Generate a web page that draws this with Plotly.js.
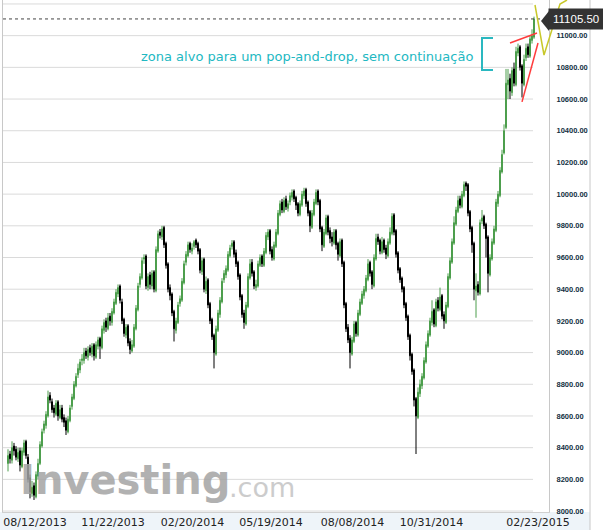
<!DOCTYPE html>
<html>
<head>
<meta charset="utf-8">
<script src="https://cdn.plot.ly/plotly-3.0.1.min.js"></script>
<style>html,body{margin:0;padding:0;background:#fff;}#chart{width:603px;height:530px;}</style>
</head>
<body>
<div id="chart"></div>
<script>
// ---- data ----
const opens = [
8300,8360,8320,8410,8390,8330,8380,8280,8370,8440,
8340,8210,8110,8160,8090,8220,8300,8410,8510,8540,
8600,8730,8690,8650,8610,8690,8590,8650,8590,8570,
8500,8570,8660,8710,8790,8860,8890,8950,8950,9010,
8970,9030,8990,9050,8970,9040,9090,9030,9140,9200,
9150,9230,9190,9250,9310,9370,9420,9320,9210,9110,
9170,9070,9010,9040,9150,9270,9430,9470,9590,9610,
9410,9490,9420,9510,9390,9640,9760,9730,9790,9690,
9560,9410,9370,9260,9140,9190,9310,9330,9440,9570,
9610,9690,9640,9670,9710,9690,9650,9510,9590,9390,
9460,9310,9210,9110,8990,9140,9240,9320,9460,9490,
9520,9610,9670,9700,9630,9570,9490,9360,9250,9180,
9290,9470,9570,9510,9410,9420,9550,9610,9550,9630,
9730,9770,9650,9590,9670,9750,9870,9950,9890,9970,
9910,9950,9980,10020,9980,9940,9870,9930,9990,10030,
9950,9890,9790,9870,9940,10020,9960,9790,9670,9750,
9860,9770,9730,9690,9770,9690,9610,9710,9570,9310,
9160,9090,8990,9070,9190,9110,9240,9310,9360,9390,
9460,9570,9510,9420,9590,9730,9710,9630,9710,9660,
9610,9690,9750,9870,9770,9630,9530,9470,9410,9310,
9230,9110,8990,8890,8710,8590,8740,8790,8840,8940,
9040,9110,9190,9270,9170,9330,9270,9360,9240,9190,
9290,9470,9570,9690,9810,9890,9970,9920,9990,10070,
10060,9890,9790,9690,9390,9430,9370,9830,9860,9810,
9730,9490,9590,9690,9770,9940,9990,10140,10260,10420,
10690,10730,10640,10790,10690,10890,10930,10810,10690,10860,
10930,10870,10970,10990];
const highs = [
8390,8380,8440,8430,8410,8400,8400,8400,8450,8450,
8360,8230,8190,8180,8250,8330,8440,8520,8570,8630,
8760,8750,8710,8670,8700,8700,8670,8670,8610,8590,
8600,8670,8740,8820,8870,8930,8960,8990,9030,9030,
9040,9050,9060,9060,9070,9100,9100,9170,9210,9220,
9250,9250,9280,9340,9400,9430,9430,9340,9220,9180,
9180,9090,9080,9180,9300,9440,9500,9600,9620,9620,
9500,9510,9520,9520,9670,9770,9780,9800,9800,9700,
9570,9430,9380,9270,9220,9320,9360,9470,9580,9640,
9700,9700,9690,9710,9720,9700,9660,9600,9600,9480,
9470,9320,9220,9120,9170,9270,9350,9470,9520,9550,
9640,9680,9710,9710,9650,9580,9500,9370,9270,9320,
9500,9590,9590,9520,9460,9580,9620,9620,9660,9760,
9780,9780,9670,9700,9780,9900,9960,9970,9980,9990,
9960,10010,10030,10030,9990,9950,9960,10020,10040,10040,
9960,9900,9900,9970,10030,10030,9970,9800,9780,9870,
9870,9790,9760,9780,9780,9700,9720,9720,9580,9320,
9180,9110,9100,9200,9200,9270,9340,9390,9420,9490,
9590,9580,9520,9620,9750,9750,9720,9730,9720,9680,
9720,9790,9880,9880,9780,9640,9540,9480,9420,9320,
9240,9120,9000,8900,8720,8780,8830,8870,8970,9070,
9140,9220,9330,9280,9340,9350,9410,9370,9260,9320,
9500,9600,9720,9860,9920,9990,9990,10020,10080,10080,
10070,9900,9800,9700,9500,9450,9840,9900,9870,9820,
9740,9620,9720,9800,9970,10020,10170,10280,10440,10790,
10790,10760,10800,10830,10930,10950,10940,10820,10880,10950,
10950,11000,11040,11120];
const lows = [
8250,8300,8300,8350,8320,8310,8250,8270,8350,8330,
8180,8080,8090,8070,8080,8200,8290,8400,8490,8520,
8590,8680,8620,8590,8600,8570,8580,8560,8530,8480,
8490,8560,8640,8700,8780,8840,8870,8920,8930,8960,
8950,8980,8970,8950,8960,9020,8960,9020,9120,9130,
9140,9170,9170,9240,9300,9350,9310,9180,9100,9090,
9040,8990,9000,9030,9140,9260,9410,9460,9560,9400,
9390,9400,9400,9380,9380,9630,9720,9710,9660,9530,
9380,9330,9230,9070,9120,9180,9290,9320,9430,9550,
9600,9630,9620,9650,9660,9620,9500,9490,9380,9370,
9280,9180,9080,8900,8980,9130,9220,9310,9440,9470,
9510,9600,9650,9600,9540,9460,9330,9220,9150,9170,
9280,9460,9480,9400,9390,9410,9540,9540,9540,9620,
9710,9620,9580,9580,9660,9740,9860,9880,9880,9900,
9890,9930,9960,9950,9900,9860,9860,9920,9970,9920,
9860,9760,9780,9860,9930,9930,9760,9640,9660,9740,
9740,9690,9670,9680,9650,9580,9600,9540,9280,9130,
9060,8900,8980,9060,9100,9100,9230,9300,9340,9380,
9450,9480,9400,9410,9580,9680,9620,9620,9630,9590,
9600,9680,9740,9740,9600,9500,9440,9380,9280,9200,
9080,8950,8860,8660,8360,8580,8720,8770,8830,8930,
9030,9100,9170,9160,9160,9260,9260,9210,9150,9180,
9280,9460,9560,9680,9800,9880,9910,9910,9980,10020,
9860,9760,9630,9330,9220,9360,9360,9810,9780,9600,
9380,9480,9580,9680,9760,9920,9980,10130,10250,10410,
10600,10600,10620,10680,10680,10870,10780,10610,10680,10840,
10860,10860,10950,10980];
const closes = [
8350,8330,8400,8380,8340,8370,8290,8380,8430,8350,
8200,8120,8150,8100,8230,8300,8420,8500,8550,8610,
8720,8700,8640,8620,8680,8600,8640,8580,8560,8510,
8580,8650,8720,8800,8850,8900,8940,8960,9000,8980,
9020,9000,9040,8980,9050,9080,9040,9150,9190,9160,
9220,9200,9260,9320,9380,9410,9330,9200,9120,9160,
9060,9020,9050,9160,9280,9420,9480,9580,9600,9420,
9480,9430,9500,9400,9650,9750,9740,9780,9680,9550,
9400,9360,9250,9150,9200,9300,9340,9450,9560,9620,
9680,9650,9660,9700,9680,9640,9520,9580,9400,9450,
9300,9200,9100,9000,9150,9250,9330,9450,9500,9530,
9620,9660,9690,9620,9560,9480,9350,9240,9190,9300,
9480,9560,9500,9420,9430,9560,9600,9560,9640,9740,
9760,9640,9600,9680,9760,9880,9940,9900,9960,9920,
9940,9990,10010,9970,9930,9880,9940,10000,10020,9940,
9880,9800,9880,9950,10010,9950,9780,9680,9760,9850,
9760,9720,9700,9760,9680,9620,9700,9560,9300,9150,
9080,9000,9080,9180,9120,9250,9320,9370,9400,9470,
9560,9500,9430,9600,9720,9700,9640,9700,9650,9620,
9700,9760,9860,9760,9620,9520,9460,9400,9300,9220,
9100,8980,8880,8700,8600,8750,8800,8850,8950,9050,
9120,9200,9260,9180,9320,9280,9350,9230,9200,9300,
9480,9580,9700,9820,9900,9960,9930,10000,10060,10050,
9880,9780,9680,9400,9420,9380,9820,9850,9800,9720,
9500,9600,9700,9780,9950,10000,10150,10250,10400,10700,
10720,10650,10780,10700,10900,10920,10800,10700,10850,10920,
10880,10980,11000,11105.5];
const dateLabels = ["08/12/2013","11/22/2013","02/20/2014","05/19/2014","08/08/2014","10/31/2014","02/23/2015"];
const dateLabelBar = [13.5, 52.5, 92.25, 131.5, 172.25, 211.75, 265];
const priceTicks = [8000,8200,8400,8600,8800,9000,9200,9400,9600,9800,10000,10200,10400,10600,10800,11000,11200];
const noteText = "zona alvo para um pop-and-drop, sem continuação";

// ---- chart ----
const xs = closes.map((_, i) => i);
const lastClose = closes[closes.length - 1];
const lastX = xs[xs.length - 1];

const trace = {
  type: 'candlestick', x: xs, open: opens, high: highs, low: lows, close: closes,
  increasing: {line: {color: '#4c9e4c', width: 1}, fillcolor: '#8cc48c'},
  decreasing: {line: {color: '#000000', width: 1}, fillcolor: '#000000'},
  whiskerwidth: 0, hoverinfo: 'none', showlegend: false
};

const W = 603, H = 530, ML = 3, MR = 54, MT = 0, MB = 18;
const PW = W - ML - MR, PH = H - MT - MB;
const px = p => (p - ML) / PW;          // pixel x -> paper
const py = p => 1 - (p - MT) / PH;      // pixel y -> paper

const shapes = [];
priceTicks.forEach(v => shapes.push({type:'line', xref:'x', yref:'y', x0:-2.5, x1:lastX-0.5, y0:v, y1:v,
  line:{color:'#dadada', width:1}, layer:'below'}));
// bottom strip + outer frame
shapes.push({type:'rect', xref:'paper', yref:'paper', x0:px(0), x1:px(590), y0:py(530), y1:py(512),
  fillcolor:'#eef4f9', line:{width:0}, layer:'below'});
shapes.push({type:'line', xref:'paper', yref:'paper', x0:px(590), x1:px(590), y0:py(530), y1:py(0),
  line:{color:'#c8c8c8', width:1}});
// last price dotted line
shapes.push({type:'line', xref:'x', yref:'y', x0:-2.5, x1:lastX+3, y0:lastClose, y1:lastClose,
  line:{color:'#444', width:1, dash:'dot'}});
// cyan bracket
shapes.push({type:'path', xref:'x', yref:'y', path:'M242.5,10985 L237,10985 L237,10784 L242.5,10784',
  line:{color:'#2ab8c0', width:2}});
// red wedge lines
shapes.push({type:'line', xref:'x', yref:'y', x0:251, y0:10954, x1:264.5, y1:11017, line:{color:'#ff3c3c', width:1.5}});
shapes.push({type:'line', xref:'x', yref:'y', x0:257, y0:10582, x1:265, y1:10954, line:{color:'#ff3c3c', width:1.5}});
// yellow zigzag
shapes.push({type:'path', xref:'paper', yref:'paper',
  path:`M${px(535)},${py(5)} L${px(544)},${py(55)} L${px(560)},${py(4)} L${px(567)},${py(0)}`,
  line:{color:'#c8c82a', width:1.5}});
// price tag arrow
shapes.push({type:'path', xref:'paper', yref:'paper',
  path:`M${px(541)},${py(21)} L${px(549)},${py(11)} L${px(549)},${py(31)} Z`,
  fillcolor:'#333', line:{width:0}});

const annotations = [
  {xref:'paper', yref:'paper', x:px(18), y:py(480), xanchor:'left', yanchor:'middle', showarrow:false,
   text:'<b>Investing</b>', font:{family:'DejaVu Sans', size:40, color:'#a4a4a4'}, opacity:0.85},
  {xref:'paper', yref:'paper', x:px(227), y:py(487), xanchor:'left', yanchor:'middle', showarrow:false,
   text:'.com', font:{family:'DejaVu Sans', size:27, color:'#c4c4c4'}, opacity:0.85},
  {xref:'x', yref:'y', x:233.5, y:10866, xanchor:'right', yanchor:'middle', showarrow:false,
   text:noteText, font:{family:'DejaVu Sans', size:13, color:'#22b8c2'}},
  {xref:'paper', yref:'y', x:px(548), y:lastClose, xanchor:'left', yanchor:'middle', showarrow:false,
   text:lastClose.toFixed(2), font:{family:'Liberation Sans', size:11.5, color:'#ffffff'},
   bgcolor:'#333333', borderpad:4}
];

const layout = {
  width: W, height: H, margin:{l:ML, r:MR, t:MT, b:MB},
  paper_bgcolor:'#ffffff', plot_bgcolor:'#ffffff', showlegend:false,
  xaxis:{range:[-2.5, 270.5], tickmode:'array', tickvals:dateLabelBar, ticktext:dateLabels,
    showgrid:false, zeroline:false, showline:true, linecolor:'#d0d0d0', ticks:'',
    tickfont:{family:'DejaVu Sans', size:11, color:'#222'}, rangeslider:{visible:false}, fixedrange:true},
  yaxis:{side:'right', range:[7994, 11225], tickmode:'array', tickvals:priceTicks,
    ticktext:priceTicks.map(v => v.toFixed(2)), showgrid:false, zeroline:false,
    showline:true, mirror:true, linecolor:'#c8c8c8', ticks:'', ticklabelstandoff:5,
    tickfont:{family:'Liberation Sans', size:7.5, color:'#12303f', weight:'bold'}, fixedrange:true},
  shapes: shapes, annotations: annotations
};

Plotly.newPlot('chart', [trace], layout, {displayModeBar:false, staticPlot:true});
</script>
</body>
</html>
